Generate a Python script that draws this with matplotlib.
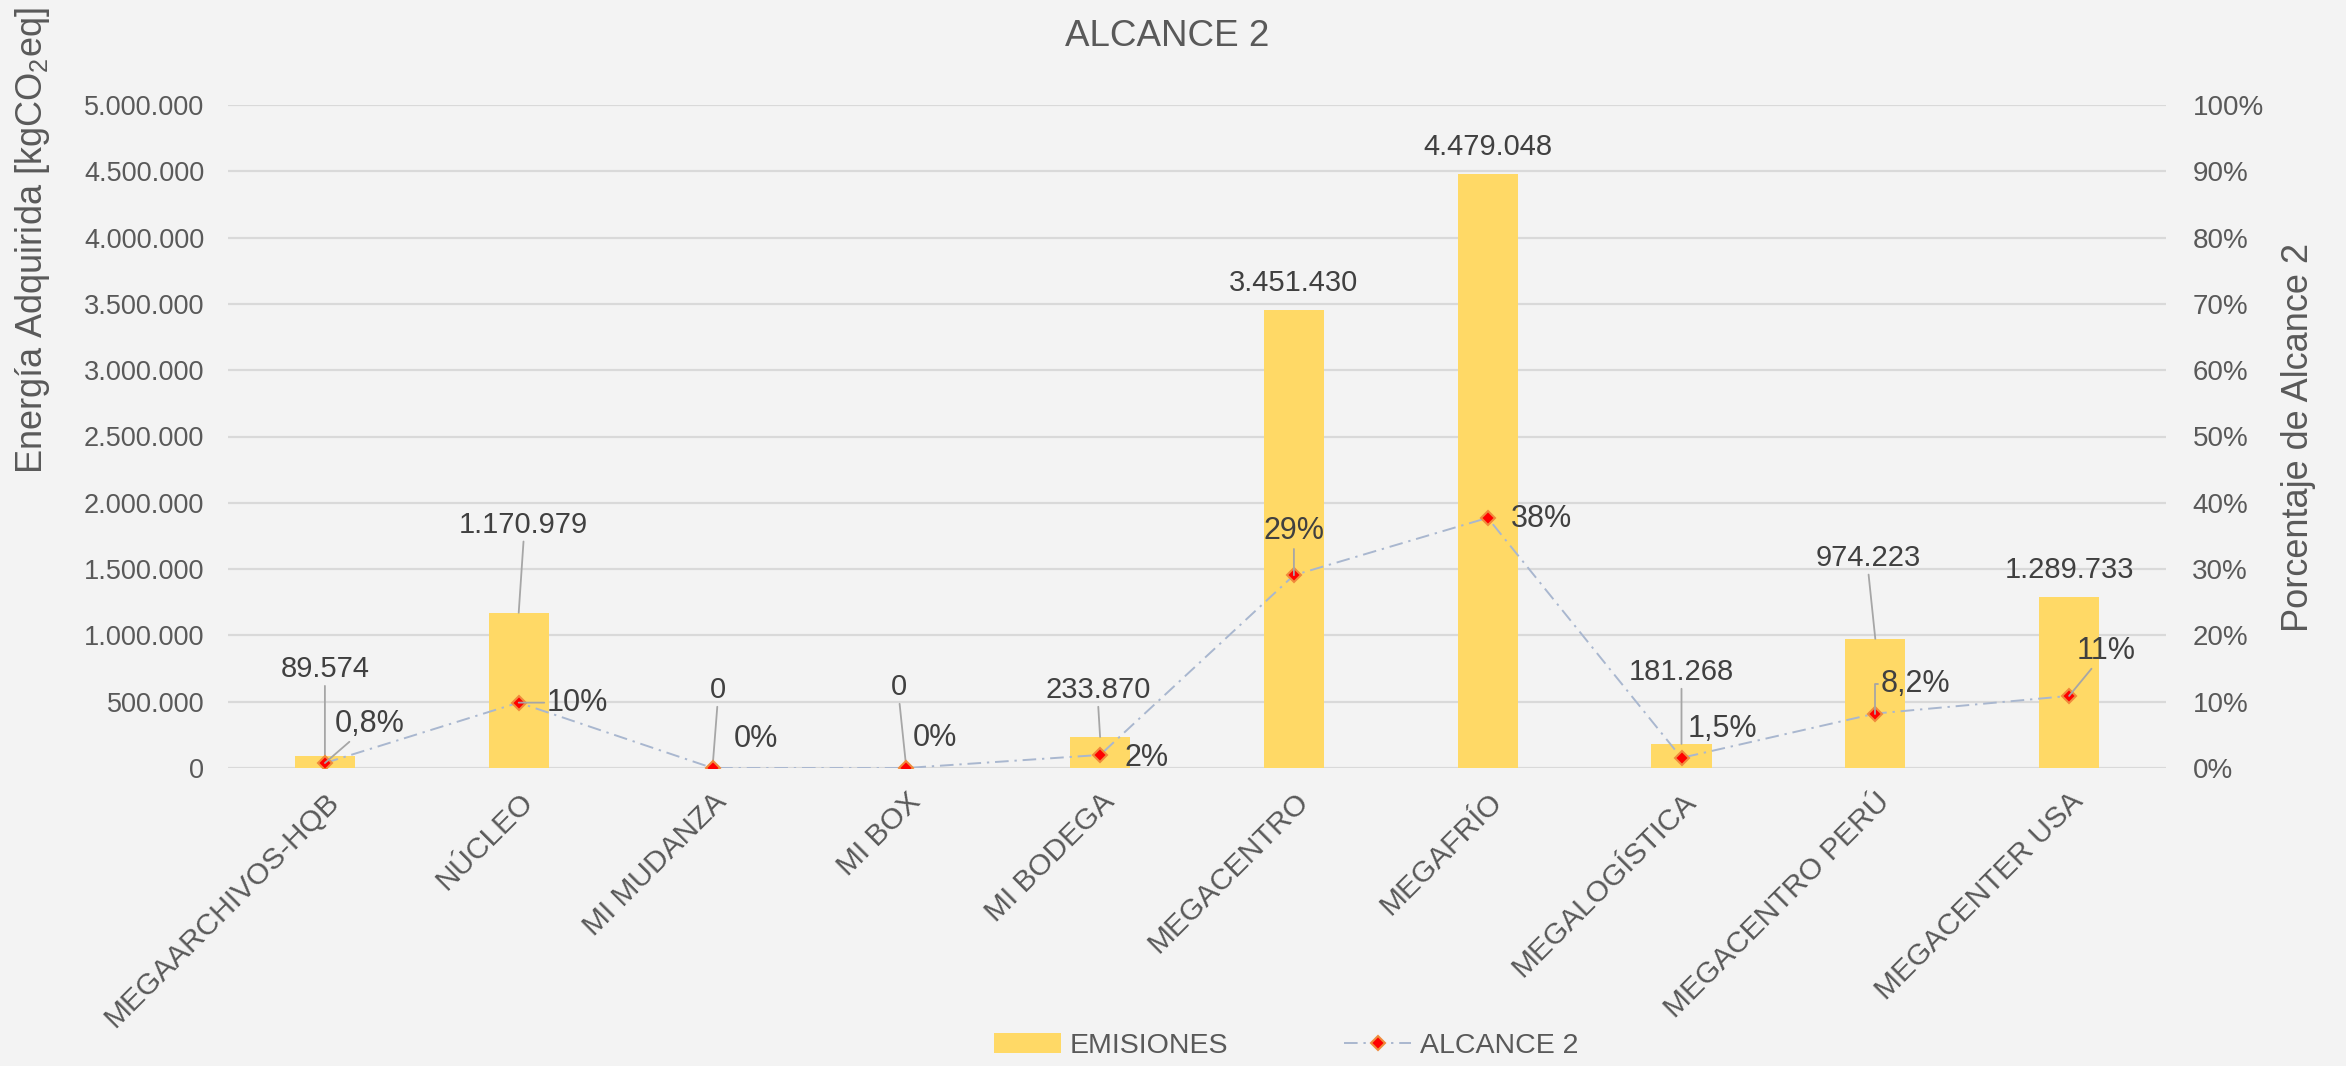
import matplotlib
matplotlib.use("Agg")
import matplotlib.pyplot as plt
from matplotlib.ticker import FuncFormatter, MultipleLocator

plt.rcParams['font.family'] = ['Liberation Sans', 'DejaVu Sans']

# data
categorias = ['MEGAARCHIVOS-HQB', 'NÚCLEO', 'MI MUDANZA', 'MI BOX', 'MI BODEGA',
              'MEGACENTRO', 'MEGAFRÍO', 'MEGALOGÍSTICA', 'MEGACENTRO PERÚ',
              'MEGACENTER USA']
emisiones = [89574, 1170979, 0, 0, 233870, 3451430, 4479048, 181268, 974223, 1289733]
alcance2 = [0.75, 9.86, 0.0, 0.0, 1.97, 29.08, 37.73, 1.53, 8.21, 10.87]
etiquetas_pct = ['0,8%', '10%', '0%', '0%', '2%', '29%', '38%', '1,5%', '8,2%', '11%']

# label placement (offset in pixels from the data point) and leader flags
off_bar = [(0, 87), (5, 88), (5, 78), (-7, 81), (-2, 47), (0, 27), (0, 27),
           (0, 72), (-7, 81), (0, 27)]
lead_bar = [True, True, True, True, True, False, False, True, True, False]
off_pct = [(45, 39), (59, 0), (43, 29), (29, 30), (46, -3), (0, 44), (54, -1),
           (41, 29), (40, 30), (37, 45)]
lead_pct = ['line', 'line', None, None, None, 'line', None, None, 'elbow', 'line']

BG = '#F3F3F3'
TXT = '#595959'
LBL = '#404040'
LEAD = '#A6A6A6'

fig = plt.figure(figsize=(23.46, 10.66), dpi=100, facecolor=BG)
ax = fig.add_axes([228 / 2346, 1 - 768 / 1066, (2166 - 228) / 2346, (768 - 105) / 1066])
ax.set_facecolor(BG)

x = list(range(len(categorias)))
bars = ax.bar(x, emisiones, width=0.31, color='#FFD966', zorder=2, label='EMISIONES')
ax.set_xlim(-0.5, len(categorias) - 0.5)
ax.set_ylim(0, 5000000)
ax.yaxis.set_major_locator(MultipleLocator(500000))
ax.yaxis.set_major_formatter(FuncFormatter(lambda v, p: f"{v:,.0f}".replace(',', '.')))
ax.grid(axis='y', color='#D9D9D9', linewidth=1.6, zorder=0)
ax.set_axisbelow(True)
for s in ax.spines.values():
    s.set_visible(False)
ax.tick_params(axis='y', length=0, pad=17, labelsize=19.5, labelcolor=TXT)
ax.tick_params(axis='x', length=0, pad=14, labelsize=21.5, labelcolor=TXT)
ax.set_xticks(x)
ax.set_xticklabels(categorias, rotation=45, ha='right', va='top', rotation_mode='anchor')

ax2 = ax.twinx()
ax2.set_ylim(0, 100)
ax2.yaxis.set_major_locator(MultipleLocator(10))
ax2.yaxis.set_major_formatter(FuncFormatter(lambda v, p: f"{v:.0f}%"))
for s in ax2.spines.values():
    s.set_visible(False)
ax2.tick_params(axis='y', length=0, pad=19, labelsize=20, labelcolor=TXT)
line, = ax2.plot(x, alcance2, color='#A9B7CF', linewidth=1.4, dashes=(7, 3, 1.2, 3),
                 marker='D', markersize=7.5, markerfacecolor='#FF0000',
                 markeredgecolor='#F08A3C', markeredgewidth=1.5, zorder=5,
                 label='ALCANCE 2')

# bar value labels
for i, v in enumerate(emisiones):
    txt = f"{v:,.0f}".replace(',', '.')
    props = None
    if lead_bar[i]:
        props = dict(arrowstyle='-', color=LEAD, lw=1.3, shrinkA=0, shrinkB=0,
                     relpos=(0.5, 0))
    ax.annotate(txt, (i, v), xytext=off_bar[i], textcoords='offset pixels',
                ha='center', va='center', fontsize=21, color=LBL,
                arrowprops=props, annotation_clip=False, zorder=6)

# percentage labels
for i, p in enumerate(alcance2):
    props = None
    if lead_pct[i] == 'line':
        props = dict(arrowstyle='-', color=LEAD, lw=1.3, shrinkA=0, shrinkB=0)
    elif lead_pct[i] == 'elbow':
        props = dict(arrowstyle='-', color=LEAD, lw=1.3, shrinkA=0, shrinkB=0,
                     relpos=(0, 0.5),
                     connectionstyle='angle,angleA=0,angleB=90,rad=0')
    ax2.annotate(etiquetas_pct[i], (i, p), xytext=off_pct[i], textcoords='offset pixels',
                 ha='center', va='center', fontsize=22, color=LBL,
                 arrowprops=props, annotation_clip=False, zorder=6)

fig.text(1167 / 2346, 1 - 37 / 1066, 'ALCANCE 2', ha='center', va='center',
         fontsize=26.5, color=TXT)
fig.text(33 / 2346, 1 - 241 / 1066, r'Energía Adquirida [kgCO$_{\mathregular{2}}$eq]',
         rotation=90, ha='center', va='center', fontsize=26, color=TXT)
fig.text(2298 / 2346, 1 - 437 / 1066, 'Porcentaje de Alcance 2', rotation=90,
         ha='center', va='center', fontsize=26, color=TXT)

leg = fig.legend([bars, line], ['EMISIONES', 'ALCANCE 2'], loc='center',
                 bbox_to_anchor=(1286 / 2346, 1 - 1046 / 1066), ncol=2, frameon=False,
                 fontsize=20.5, handlelength=2.35, handletextpad=0.3, columnspacing=4.1,
                 labelcolor=TXT)

fig.savefig('out.png', dpi=100, facecolor=BG)
